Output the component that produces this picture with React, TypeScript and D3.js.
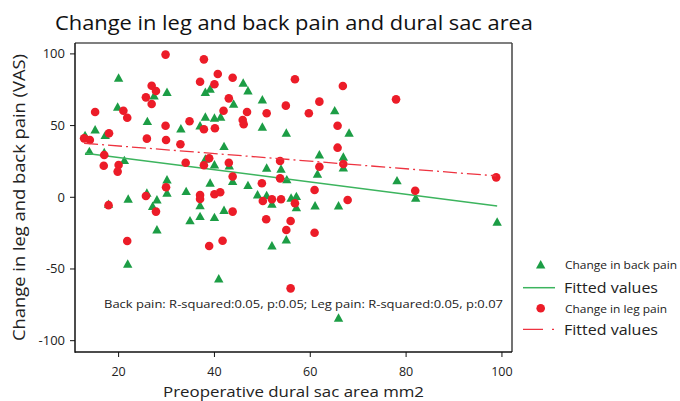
import * as d3 from "d3";

const W = 680;
const H = 401;

// [dural sac area, change in VAS]
const backPain: [number, number][] = [
  [20.0, 83], [30.1, 73], [27.4, 70.6], [38.1, 73], [39.1, 75.3], [19.8, 62.8],
  [26.0, 52.7], [33.0, 47.6], [38.1, 55.8], [40.0, 55.1], [41.3, 55.8], [37.0, 49.7],
  [15.1, 46.9], [17.2, 43], [13.0, 43], [13.9, 31.8], [17, 31], [21.2, 25.5],
  [38.1, 26.5], [40.0, 22.5], [46, 79.5], [47, 74.1], [44, 64.8], [50, 67.8],
  [50, 48.8], [55, 44.6], [65.1, 60.2], [68.1, 44.6], [42, 35.3], [61.9, 29.5],
  [66.9, 27.9], [66.9, 20.4], [50.9, 20.2], [53.9, 19.5], [61.5, 16], [43.1, 21.8],
  [30.1, 12], [30.1, 2.8], [25.9, 2.8], [28, -1.9], [27.1, -6.5], [28, -22.8],
  [22, -1.4], [17.9, -5], [21.9, -46.7], [34.1, 3.9], [39.1, 9.8], [37, -5.9],
  [34.9, -16.5], [37, -13.5], [40, -14.2], [40.9, -57], [43.8, 10.9], [55.1, 12.1],
  [47, 8.1], [49, 1.6], [50.9, 1.1], [52, -4.9], [56, -0.7], [57.1, 0.4],
  [57.1, -7.3], [61, -6.1], [65.9, -6.1], [42, -9.3], [55, -29.8], [52, -34],
  [65.9, -84.4], [82, -0.7], [99, -17.4], [78.1, 11.4],
];

const legPain: [number, number][] = [
  [29.8, 99.5], [37.8, 96.2], [40.7, 86], [37.0, 80.6], [40.0, 78.8], [26.9, 77.8],
  [27.8, 74.1], [25.7, 69.7], [26.9, 65.1], [15.1, 59.5], [21.0, 60.4], [21.8, 55.5],
  [34.8, 53], [29.8, 49.9], [37.8, 47.4], [40.1, 48.1], [18.0, 44.6], [12.8, 41.1],
  [14.0, 40], [25.9, 40.9], [29.9, 40], [32.9, 37], [17.0, 29.5], [16.9, 22],
  [20.0, 22.5], [19.8, 17.9], [34.0, 24.1], [38.9, 27.2], [37.8, 22.3], [43.8, 83.4],
  [56.8, 82.3], [66.8, 77.6], [43.0, 69], [41.9, 60.4], [46.8, 59.5], [50.9, 58.6],
  [54.9, 63.9], [61.9, 66.7], [59.7, 58.6], [45.9, 53.9], [46.1, 50.9], [65.7, 49.9],
  [65.7, 34.6], [43.0, 24.1], [53.7, 25.3], [61.9, 21.3], [66.9, 23.2], [43.8, 14.5],
  [29.9, 7], [25.7, 0.9], [27.8, -10], [17.9, -5.5], [21.8, -30.5], [37, 1.6],
  [37, -1.2], [40.0, 2.1], [41.2, 3.5], [38.9, -34], [53.7, 13.2], [49.9, 9.8],
  [60.9, 5.1], [50.1, -2.6], [52, -1.4], [53.9, -1.4], [56.8, -4.2], [67.8, -1.9],
  [43.8, -10], [50.8, -15.3], [55.9, -16.5], [55, -22.8], [60.9, -24.7], [41.7, -30.3],
  [55.9, -63.5], [77.9, 68.3], [98.8, 13.9], [81.9, 4.6],
];

const backFit: [number, number][] = [[13, 30.7], [99, -6]];
const legFit: [number, number][] = [[12.8, 37.7], [98.8, 14.9]];

const xTicks = [20, 40, 60, 80, 100];
const yTicks = [100, 50, 0, -50, -100];

const legendLabels = ["Change in back pain", "Fitted values", "Change in leg pain", "Fitted values"];

const FONT = "'Open Sans', 'DejaVu Sans', sans-serif";
const GREEN = "#1c9d45";
const GREEN_LINE = "#3cb45e";
const RED = "#ec1c28";
const RED_LINE = "#ee3340";

const plot = { left: 75, right: 512, top: 43, bottom: 352 };

const tri = (cx: number, cy: number) =>
  `M${cx},${cy - 5}L${cx + 4.7},${cy + 3.4}L${cx - 4.7},${cy + 3.4}Z`;

export default function App() {
  const x = d3.scaleLinear().domain([10.9, 102.1]).range([plot.left, plot.right]);
  const y = d3.scaleLinear().domain([-107.9, 107.6]).range([plot.bottom, plot.top]);
  const line = d3
    .line<[number, number]>()
    .x((d) => x(d[0]))
    .y((d) => y(d[1]));

  return (
    <svg
      width={W}
      height={H}
      style={{ position: "absolute", left: 0, top: 0, background: "#fff" }}
      fontFamily={FONT}
    >
      <rect width={W} height={H} fill="#fff" />
      <text x={55} y={30} fontSize={20} fill="#111" textLength={478} lengthAdjust="spacingAndGlyphs">
        Change in leg and back pain and dural sac area
      </text>

      {/* frame */}
      <line x1={plot.left} x2={plot.right} y1={plot.top} y2={plot.top} stroke="#555" strokeWidth={1.5} />
      <line x1={plot.right} x2={plot.right} y1={plot.top} y2={plot.bottom} stroke="#444" strokeWidth={1.5} />
      <line x1={plot.left} x2={plot.left} y1={plot.top} y2={plot.bottom + 0.7} stroke="#111" strokeWidth={1.5} />
      <line x1={plot.left} x2={plot.right} y1={plot.bottom} y2={plot.bottom} stroke="#111" strokeWidth={1.5} />

      {/* y axis */}
      {yTicks.map((t) => (
        <g key={t}>
          <line x1={plot.left - 5} x2={plot.left} y1={y(t)} y2={y(t)} stroke="#111" strokeWidth={1} />
          <text x={plot.left - 10} y={y(t) + 4.5} fontSize={13} textAnchor="end" fill="#222">
            {t}
          </text>
        </g>
      ))}
      <text
        transform={`translate(25, ${(plot.top + plot.bottom) / 2}) rotate(-90)`}
        fontSize={16}
        textAnchor="middle"
        fill="#222"
        textLength={287}
        lengthAdjust="spacingAndGlyphs"
      >
        Change in leg and back pain (VAS)
      </text>

      {/* x axis */}
      {xTicks.map((t) => (
        <g key={t}>
          <line x1={x(t)} x2={x(t)} y1={plot.bottom} y2={plot.bottom + 5} stroke="#111" strokeWidth={1} />
          <text x={x(t)} y={376} fontSize={12.5} textAnchor="middle" fill="#222">
            {t}
          </text>
        </g>
      ))}
      <text x={(plot.left + plot.right) / 2} y={396.5} fontSize={14.5} textAnchor="middle" fill="#222" textLength={261} lengthAdjust="spacingAndGlyphs">
        Preoperative dural sac area mm2
      </text>

      {/* marks */}
      {backPain.map((d, i) => (
        <path key={i} d={tri(x(d[0]), y(d[1]))} fill={GREEN} />
      ))}
      <path d={line(backFit) || undefined} stroke={GREEN_LINE} strokeWidth={1.5} fill="none" />
      {legPain.map((d, i) => (
        <circle key={i} cx={x(d[0])} cy={y(d[1])} r={4.3} fill={RED} />
      ))}
      <path
        d={line(legFit) || undefined}
        stroke={RED_LINE}
        strokeWidth={1.3}
        fill="none"
        strokeDasharray="14 4 2 4"
      />

      <text x={104} y={308} fontSize={11.5} fill="#222" textLength={399} lengthAdjust="spacingAndGlyphs">
        Back pain: R-squared:0.05, p:0.05; Leg pain: R-squared:0.05, p:0.07
      </text>

      {/* legend */}
      <path d={tri(540.7, 265)} fill={GREEN} />
      <text x={565} y={269} fontSize={11} fill="#222" textLength={112} lengthAdjust="spacingAndGlyphs">
        {legendLabels[0]}
      </text>
      <line x1={523} x2={555} y1={287.7} y2={287.7} stroke={GREEN_LINE} strokeWidth={1.5} />
      <text x={564} y={293} fontSize={14} fill="#222" textLength={94} lengthAdjust="spacingAndGlyphs">
        {legendLabels[1]}
      </text>
      <circle cx={540.7} cy={308.3} r={4.3} fill={RED} />
      <text x={565} y={312.5} fontSize={11} fill="#222" textLength={102} lengthAdjust="spacingAndGlyphs">
        {legendLabels[2]}
      </text>
      <line x1={523} x2={556} y1={329.3} y2={329.3} stroke={RED_LINE} strokeWidth={1.3} strokeDasharray="20 9 2 4" />
      <text x={564} y={335} fontSize={14} fill="#222" textLength={94} lengthAdjust="spacingAndGlyphs">
        {legendLabels[3]}
      </text>
    </svg>
  );
}
